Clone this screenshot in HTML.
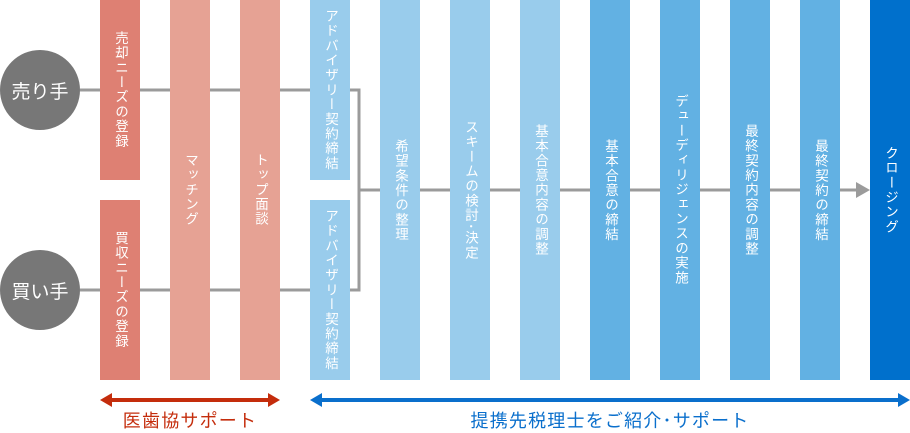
<!DOCTYPE html>
<html><head><meta charset="utf-8"><style>
html,body{margin:0;padding:0;background:#fff;}
body{width:910px;height:432px;position:relative;overflow:hidden;font-family:"Liberation Sans","Noto Sans CJK JP",sans-serif;}
.b{position:absolute;width:40px;display:flex;align-items:center;justify-content:center;color:#fff;}
.b span{writing-mode:vertical-rl;font-size:13.5px;letter-spacing:1.2px;line-height:40px;white-space:nowrap;}
.c{position:absolute;width:80px;height:80px;border-radius:50%;background:#777;color:#fff;font-size:19px;display:flex;align-items:center;justify-content:center;left:0;}
.r1{background:#de8073}.r2{background:#e6a294}.l1{background:#99ccec}.l2{background:#62b1e3}.d{background:#0070cc}
.lab{position:absolute;font-size:18px;letter-spacing:1.2px;top:407px;text-align:center;}
</style></head><body>
<svg width="910" height="432" style="position:absolute;left:0;top:0">
<g stroke="#9b9b9b" stroke-width="3" fill="none">
<line x1="80" y1="90" x2="310" y2="90"/>
<line x1="80" y1="290" x2="310" y2="290"/>
<polyline points="350,90 359,90 359,290 350,290"/>
<line x1="359" y1="190" x2="858" y2="190"/>
</g>
<polygon points="856,182 870,190 856,198" fill="#9b9b9b"/>
<g fill="#c42d0c"><rect x="108" y="398" width="164" height="4"/><polygon points="100,400 112,393 112,407"/><polygon points="280,400 268,393 268,407"/></g>
<g fill="#0a6fcc"><rect x="318" y="398" width="584" height="4"/><polygon points="310,400 322,393 322,407"/><polygon points="910,400 898,393 898,407"/></g>
</svg>
<div class="c" style="top:50px">売り手</div>
<div class="c" style="top:250px">買い手</div>
<div class="b r1" style="left:100px;top:0;height:180px"><span>売却ニーズの登録</span></div>
<div class="b r1" style="left:100px;top:200px;height:180px"><span>買収ニーズの登録</span></div>
<div class="b r2" style="left:170px;top:0;height:380px"><span>マッチング</span></div>
<div class="b r2" style="left:240px;top:0;height:380px"><span>トップ面談</span></div>
<div class="b l1" style="left:310px;top:0;height:180px"><span>アドバイザリー契約締結</span></div>
<div class="b l1" style="left:310px;top:200px;height:180px"><span>アドバイザリー契約締結</span></div>
<div class="b l1" style="left:380px;top:0;height:380px"><span>希望条件の整理</span></div>
<div class="b l1" style="left:450px;top:0;height:380px"><span>スキームの検討･決定</span></div>
<div class="b l1" style="left:520px;top:0;height:380px"><span>基本合意内容の調整</span></div>
<div class="b l2" style="left:590px;top:0;height:380px"><span>基本合意の締結</span></div>
<div class="b l2" style="left:660px;top:0;height:380px"><span>デューディリジェンスの実施</span></div>
<div class="b l2" style="left:730px;top:0;height:380px"><span>最終契約内容の調整</span></div>
<div class="b l2" style="left:800px;top:0;height:380px"><span>最終契約の締結</span></div>
<div class="b d" style="left:870px;top:0;height:380px"><span>クロージング</span></div>
<div class="lab" style="left:100px;width:180px;color:#c42d0c">医歯協サポート</div>
<div class="lab" style="left:310px;width:600px;color:#0a6fcc">提携先税理士をご紹介･サポート</div>
</body></html>
